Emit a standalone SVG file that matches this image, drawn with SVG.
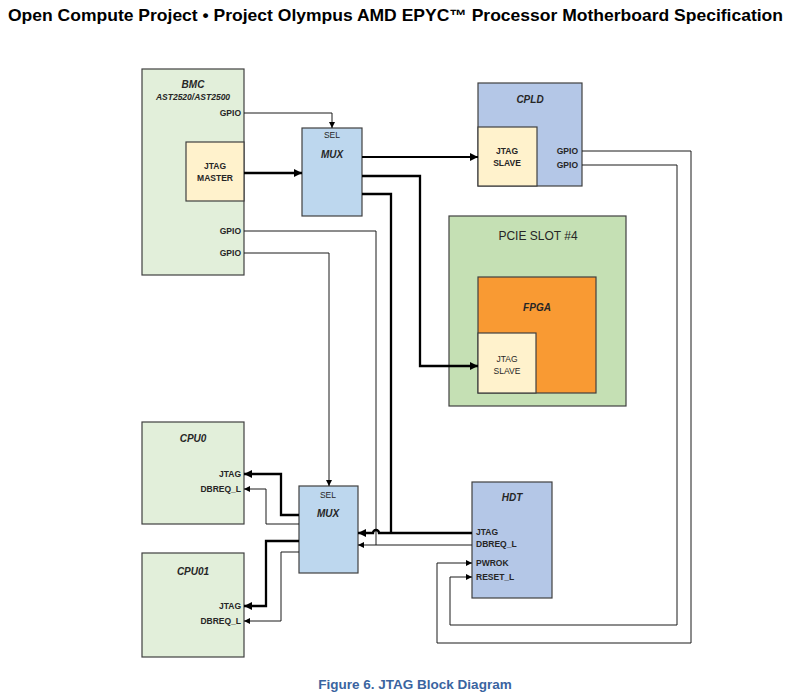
<svg xmlns="http://www.w3.org/2000/svg" width="800" height="700" viewBox="0 0 800 700">
<style>
text{font-family:"Liberation Sans","Open Sans",Arial,sans-serif;fill:#262626}
.box{stroke:#404040;stroke-width:1.2}
.green{fill:#e2efda}
.mux{fill:#bdd7ee}
.blue{fill:#b4c7e7}
.cream{fill:#fff2cc}
.slot{fill:#c5e0b4}
.fpga{fill:#f99a33}
.ttl{font-weight:bold;font-style:italic;font-size:10px;text-anchor:middle}
.lbl{font-size:8.5px;font-weight:bold}
.r{text-anchor:end}
.c{text-anchor:middle}
.thin{fill:none;stroke:#1a1a1a;stroke-width:1}
.thick{fill:none;stroke:#000;stroke-width:2.3}
.med{fill:none;stroke:#000;stroke-width:1.8}
</style>
<defs>
<marker id="aT" markerUnits="userSpaceOnUse" markerWidth="10" markerHeight="10" refX="8" refY="4" orient="auto"><path d="M0,0 L8,4 L0,8 z" fill="#000"/></marker>
<marker id="at" markerUnits="userSpaceOnUse" markerWidth="8" markerHeight="8" refX="6" refY="3" orient="auto"><path d="M0,0 L6,3 L0,6 z" fill="#000"/></marker>
</defs>
<rect width="800" height="700" fill="#fff"/>
<text x="8" y="21" font-size="16.5" font-weight="bold" textLength="775" lengthAdjust="spacingAndGlyphs" style="fill:#000">Open Compute Project • Project Olympus AMD EPYC™ Processor Motherboard Specification</text>

<g id="bmc">
<rect class="box green" x="142" y="69" width="102" height="206"/>
<text class="ttl" x="193" y="88">BMC</text>
<text class="ttl" x="193" y="100" style="font-size:8.5px">AST2520/AST2500</text>
<text class="lbl r" x="241" y="116">GPIO</text>
<text class="lbl r" x="241" y="234">GPIO</text>
<text class="lbl r" x="241" y="256">GPIO</text>
</g>
<g id="jtag-master">
<rect class="box cream" x="186" y="142" width="58" height="59"/>
<text class="lbl c" x="215" y="169">JTAG</text>
<text class="lbl c" x="215" y="181">MASTER</text>
</g>
<g id="mux-top">
<rect class="box mux" x="302" y="128" width="60" height="88"/>
<text class="lbl c" x="332" y="138" style="font-weight:normal">SEL</text>
<text class="ttl" x="332" y="158">MUX</text>
</g>
<g id="cpld">
<rect class="box blue" x="478" y="83" width="104" height="103"/>
<text class="ttl" x="530" y="103">CPLD</text>
<text class="lbl r" x="578" y="154">GPIO</text>
<text class="lbl r" x="578" y="168">GPIO</text>
</g>
<g id="cpld-slave">
<rect class="box cream" x="478" y="127" width="59" height="59"/>
<text class="lbl c" x="507" y="154">JTAG</text>
<text class="lbl c" x="507" y="166">SLAVE</text>
</g>
<g id="pcie">
<rect class="box slot" x="449" y="216" width="177" height="190"/>
<text x="538" y="240" font-size="12" text-anchor="middle">PCIE SLOT #4</text>
</g>
<g id="fpga">
<rect class="box fpga" x="478" y="277" width="118" height="116"/>
<text class="ttl" x="537" y="311">FPGA</text>
</g>
<g id="fpga-slave">
<rect class="box cream" x="478" y="333" width="58" height="60"/>
<text class="lbl c" x="507" y="362" style="font-weight:normal">JTAG</text>
<text class="lbl c" x="507" y="374" style="font-weight:normal">SLAVE</text>
</g>
<g id="cpu0">
<rect class="box green" x="142" y="422" width="102" height="102"/>
<text class="ttl" x="193" y="442">CPU0</text>
<text class="lbl r" x="241" y="477">JTAG</text>
<text class="lbl r" x="241" y="492">DBREQ_L</text>
</g>
<g id="cpu01">
<rect class="box green" x="142" y="553" width="102" height="104"/>
<text class="ttl" x="193" y="575">CPU01</text>
<text class="lbl r" x="241" y="609">JTAG</text>
<text class="lbl r" x="241" y="624">DBREQ_L</text>
</g>
<g id="mux-bottom">
<rect class="box mux" x="299" y="486" width="59" height="87"/>
<text class="lbl c" x="328" y="498" style="font-weight:normal">SEL</text>
<text class="ttl" x="328" y="517">MUX</text>
</g>
<g id="hdt">
<rect class="box blue" x="472" y="482" width="80" height="116"/>
<text class="ttl" x="512" y="501">HDT</text>
<text class="lbl" x="476" y="535">JTAG</text>
<text class="lbl" x="476" y="547">DBREQ_L</text>
<text class="lbl" x="476" y="566">PWROK</text>
<text class="lbl" x="476" y="580">RESET_L</text>
</g>

<g id="connectors">
<path class="thin" d="M244,113 H332 V128" marker-end="url(#at)"/>
<path class="thick" d="M244,173 H302" marker-end="url(#aT)"/>
<path class="med" d="M362,157 H478" marker-end="url(#aT)"/>
<path class="thick" d="M362,176 H420 V366 H478" marker-end="url(#aT)"/>
<path class="thick" d="M362,194 H391 V533"/>
<path class="thin" d="M244,231 H376 V545"/>
<path class="thin" d="M244,253 H329 V486" marker-end="url(#at)"/>
<path class="thick" d="M472,533 H379 a3,3 0 0 0 -6,0 H358" marker-end="url(#aT)"/>
<path class="thin" d="M472,545 H358" marker-end="url(#at)"/>
<path class="thick" d="M299,515 H281 V474 H244" marker-end="url(#aT)"/>
<path class="thin" d="M299,524 H266 V489 H244" marker-end="url(#at)"/>
<path class="thick" d="M299,541 H266 V606 H244" marker-end="url(#aT)"/>
<path class="thin" d="M299,552 H281 V621 H244" marker-end="url(#at)"/>
<path class="thin" d="M582,151 H691 V643 H437 V563 H472" marker-end="url(#at)"/>
<path class="thin" d="M582,165 H677 V625 H450 V577 H472" marker-end="url(#at)"/>
</g>

<text x="415" y="689" font-size="13.5" font-weight="bold" text-anchor="middle" style="fill:#3a64a0">Figure 6. JTAG Block Diagram</text>
</svg>
